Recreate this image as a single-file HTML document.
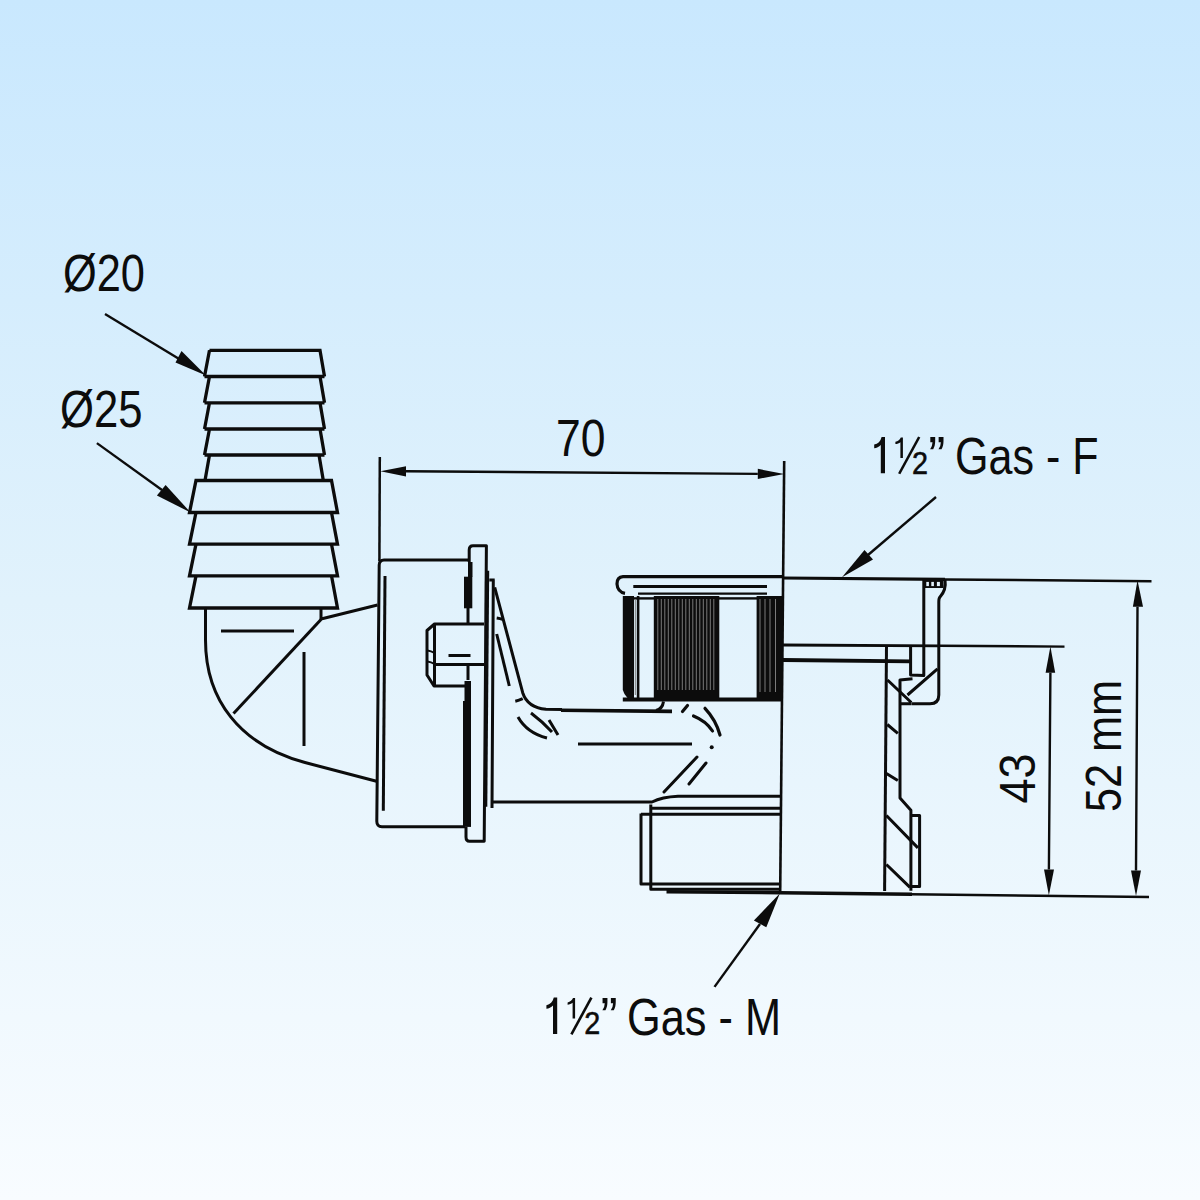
<!DOCTYPE html>
<html><head><meta charset="utf-8"><style>
html,body{margin:0;padding:0;width:1200px;height:1200px;overflow:hidden;}
svg{display:block;}
text{font-family:"Liberation Sans",sans-serif;fill:#0c0c0c;}
</style></head><body>
<svg width="1200" height="1200" viewBox="0 0 1200 1200">
<defs>
<linearGradient id="bg" x1="0" y1="0" x2="0" y2="1">
<stop offset="0" stop-color="#c9e8fe"/>
<stop offset="0.5" stop-color="#e1f2fc"/>
<stop offset="1" stop-color="#f8fcff"/>
</linearGradient>
</defs>
<rect x="0" y="0" width="1200" height="1200" fill="url(#bg)"/>

<!-- TEXT -->
<text x="63" y="290.6" font-size="51.5" textLength="82" lengthAdjust="spacingAndGlyphs">Ø20</text>
<text x="60" y="427.3" font-size="51.5" textLength="82.5" lengthAdjust="spacingAndGlyphs">Ø25</text>
<text x="556" y="455.5" font-size="51" textLength="49.5" lengthAdjust="spacingAndGlyphs">70</text>
<g id="half">
<path d="M885,437 L885,473.3 L880.8,473.3 L880.8,445 C879,447 876.5,448 874.2,448.2 L874.2,444.6 C878,444 880.5,441.5 881.6,437 Z" fill="#0c0c0c"/>
<path d="M902.9,437.5 L902.9,458 L900.4,458 L900.4,442.2 C899,443.3 897.3,443.9 895.4,444.1 L895.4,441.8 C898,441.4 900,439.8 900.8,437.5 Z" fill="#0c0c0c"/>
<path d="M899.2,473.75 L919.2,437" stroke="#0c0c0c" stroke-width="2.6" fill="none"/>
<text x="912" y="473.8" font-size="31" stroke="#0c0c0c" stroke-width="0.55" textLength="16" lengthAdjust="spacingAndGlyphs">2</text>
<text x="928.3" y="474.2" font-size="51.5" transform="translate(0,-19) scale(1,1.04)">”</text>
</g>
<text x="955" y="474.2" font-size="51.5" textLength="143.5" lengthAdjust="spacingAndGlyphs">Gas - F</text>
<use href="#half" transform="translate(-327.8,560.6)"/>
<text x="627" y="1035.3" font-size="51.5" textLength="154" lengthAdjust="spacingAndGlyphs">Gas - M</text>

<text transform="translate(1035.2,803.5) rotate(-90)" x="0" y="0" font-size="50" textLength="50" lengthAdjust="spacingAndGlyphs">43</text>
<text transform="translate(1121.3,812) rotate(-90)" x="0" y="0" font-size="50" textLength="132" lengthAdjust="spacingAndGlyphs">52 mm</text>

<g fill="none" stroke="#0c0c0c" stroke-width="3.3" stroke-linejoin="miter" stroke-linecap="butt">
<!-- HOSE BARB upper -->
<path d="M209.5,350.3 L320,350.3 L324.5,376.5 M204.5,376.5 L209.5,350.3"/>
<path d="M204.5,376.5 L324.5,376.5 M209.5,376.5 L204.5,402.8 M320,376.5 L324.5,402.8"/>
<path d="M204.5,402.8 L324.5,402.8 M209.5,402.8 L204.5,429 M320,402.8 L324.5,429"/>
<path d="M204.5,429 L324.5,429 M209.5,429 L204.5,455 M320,429 L324.5,455"/>
<path d="M204.5,455 L324.5,455 M209.5,455 L205,480.5 M319,455 L323.3,480.5"/>
<!-- lower -->
<path d="M196,480.5 L331.5,480.5 L337.5,512.5 L189.5,512.5 Z"/>
<path d="M196,512.5 L189.5,544.2 L337.5,544.2 L331.5,512.5"/>
<path d="M196,544.2 L189.5,575.8 L337.5,575.8 L331.5,544.2"/>
<path d="M196,575.8 L189.5,608 L337.5,608 L331.5,575.8"/>
</g>

<g fill="none" stroke="#0c0c0c" stroke-width="3" stroke-linejoin="round" stroke-linecap="butt">
<!-- ELBOW -->
<path d="M205.5,608 L205.5,640 C205.5,700 240,745 305,762.5 L376.5,781.3"/>
<path d="M321,608 L321,619 L377.5,605"/>
<path d="M321,619.5 L233.5,713.5"/>
<path d="M221,631 L294,631 M304,652 L304,746"/>

<!-- HOUSING BOX -->
<path d="M379.8,457 L379.4,561" stroke-width="2.5"/>
<path d="M468.3,560 L384,560 Q379.3,560 379.2,565 L376.8,821 Q376.7,826.7 382,826.7 L465,826.7"/>
<path d="M385,576 L383.3,810.7"/>

<!-- FLANGE -->
<path d="M473,545.8 L486.4,545.8 L484.2,841.3 L469.5,841.3 Q466,841.3 466,837 L466,827" stroke-width="3"/>
<path d="M473,545.8 Q469.2,545.8 469.2,550 L469.2,562"/>
<path d="M493.3,580 L492,808 M489.3,580 L494.7,580"/>

<!-- PIN -->
<path d="M484,624 L434.5,624 L427,630.5 L427,675 L434,686 L467.5,686 M434.5,624 L434.5,686 M434.5,664.5 L484,664.5 M468,664.5 L468,680 M468,608 L468,624"/>
<path d="M448.5,655.5 L470.5,655.5" stroke-width="3"/>
<path d="M427.5,650.5 Q431,651 434.5,653 M427.5,661.5 Q431,662 434.5,664" stroke-width="2"/>

<!-- DIAGONAL to pipe -->
<path d="M494.7,587.3 L522.7,692.7 Q527.5,707.5 546,709.3 L562,709.6"/>
<path d="M561,710.2 L672,711.4" stroke-width="3.6"/>
<path d="M656,710.5 Q662.5,709 663.5,701.5"/>
<path d="M496.7,634 L509.3,686"/>
<path d="M496.7,618 Q500,618.5 503.3,619.5 M515.3,701.3 Q519,700.5 522.7,698.7"/>
<!-- pipe bottom -->
<path d="M492,802 L652,802 Q662,797 678,796.3 L780.5,796.3"/>
<path d="M578,744 L692,744"/>
<!-- dashed arcs -->
<path d="M518,717 Q527,733 547,738 M531,713 Q543,722 552,732 M549,720 L558,735"/>
<path d="M682.5,711.5 L687.5,705.5 M693.5,716 Q706,721 712.5,731 M705,708.3 Q716,720 720,735" stroke-linecap="round" stroke-width="3.2"/>
<circle cx="711.7" cy="747.3" r="2" fill="#0c0c0c" stroke="none"/>
<path d="M664,792 L697,757 M689,784 L706,763" stroke-linecap="round"/>

<!-- MALE THREAD -->
<path d="M651.5,808.3 L780.5,808.3 M641,814.3 L780.5,814.3 M641,813.5 L641,884 L780.5,884 M650.8,804.5 L650.8,889.3 L780.5,889.3"/>
<path d="M666.5,891.8 L780,892.8 L912,894.2" stroke-width="3.4"/><path d="M910,894.2 L1149,896.9" stroke-width="2.5"/>

<!-- NUT lip -->
<path d="M783,576.7 L623,576.7 Q617,577 617,584 Q617.5,592 625,593.3" stroke-width="3.2"/>
<path d="M633.3,586.5 L767,586.5"/><path d="M638,593.6 L767,593.6" stroke-width="2.2"/>

<!-- right body -->
<path d="M783,578 L945,579.4" stroke-width="3.2"/><path d="M944,579.4 L1151.5,581.3" stroke-width="2.5"/>
<path d="M784.2,461 L780.2,891" stroke-width="2.6"/>
<path d="M783,645 L940,645.8" stroke-width="2.8"/><path d="M939,645.8 L1064.5,646.6" stroke-width="2.4"/>
<path d="M783,660 L910.6,661.3" stroke-width="3.8"/>
<path d="M923.8,580 L923.8,675.6 L910.6,675 L910.6,645"/>
<path d="M945,579.4 Q946.5,590 940,597 Q938.8,598 938.8,602 L938.8,695 Q938.8,703.8 930,703.8 L911.3,703.8"/>
<path d="M912.5,678.8 L900,680 L900,798 L910.9,810.3 L910.9,890.8"/>
<path d="M887.5,680 L911.3,702.5 M907.5,695 L937.5,668.8 M900,703.8 L911,703.8"/>
<path d="M886.5,645 L884.6,891"/>
<path d="M910.9,815.5 L919.6,815.5 L919.6,886.4 L910.9,886.4"/>
<path d="M887.3,724.5 L897.8,733.3 M886.4,773.5 L897.8,780.5 M886.4,815.5 L917.9,847.9 M886.4,864.5 L910,887.3"/>


<!-- dimension 70 -->
<path d="M406,471.3 L757.8,473.9" stroke-width="2.4"/>
<!-- 52 / 43 -->
<path d="M1137.5,606.7 L1136,870.5 M1050.4,672.8 L1048.9,869.6" stroke-width="2.4"/>
<!-- leader lines -->
<path d="M105,314 L180,359.5" stroke-width="2.4"/>
<path d="M96.9,443.1 L162,490" stroke-width="2.4"/>
<path d="M936,497 L868,555" stroke-width="2.4"/>
<path d="M714.5,986.9 L760,924" stroke-width="2.4"/>
</g>

<!-- filled dark shapes -->
<g fill="#0c0c0c" stroke="none">
<!-- flange bars -->
<rect x="464" y="576.7" width="8.3" height="31.6"/>
<rect x="468" y="562" width="4.5" height="15"/>
<rect x="464.5" y="681" width="6.5" height="145.7"/>
<rect x="463" y="701" width="8" height="125.7"/>
<polygon points="485,570.8 489.2,570.8 487.3,806.7 484.3,806.7"/>
<!-- nut body -->
<path d="M622.8,596 L634,596 L634,700.5 Q626,700 622.8,690 Z"/>
<rect x="634" y="597.2" width="148.8" height="2.4"/>
<rect x="622.8" y="697.5" width="160" height="4"/>
<rect x="636.8" y="596" width="2.6" height="104"/>
<rect x="653.8" y="596" width="65.5" height="104"/>
<rect x="756.6" y="596" width="25.9" height="104"/>
<!-- arrowheads -->
<polygon points="380.4,471.2 406,466.2 406,476.4"/>
<polygon points="784.2,474 757.8,468.8 757.8,479"/>
<polygon points="206,375.6 175.5,362.5 181.5,351"/>
<polygon points="190.6,512.5 156.9,495.6 165.6,485"/>
<polygon points="842,577.3 864.5,550 873,559.5"/>
<polygon points="779.8,893.5 753.9,920.5 766.3,927.3"/>
<polygon points="1137.5,580.3 1132.9,606.7 1143,606.7"/>
<polygon points="1050.4,646.6 1045.6,672.8 1055.2,672.8"/>
<polygon points="1048.9,895.3 1044,869.6 1054,869.6"/>
<polygon points="1136,896 1131,870.5 1141,870.5"/>
</g>
<!-- thread stripes -->
<g stroke="#7a7a7a" stroke-width="1" fill="none">
<path d="M657.8,599 L657.8,690 M661.3,599 L661.3,690 M664.8,599 L664.8,690 M668.3,599 L668.3,690 M671.8,599 L671.8,690 M675.3,599 L675.3,690 M678.8,599 L678.8,690 M682.3,599 L682.3,690 M685.8,599 L685.8,690 M689.3,599 L689.3,690 M692.8,599 L692.8,690 M696.3,599 L696.3,690 M699.8,599 L699.8,690 M703.3,599 L703.3,690 M706.8,599 L706.8,690 M710.3,599 L710.3,690 M713.8,599 L713.8,690 M760,599 L760,692 M765,599 L765,692 M770,599 L770,692 M775.5,599 L775.5,692 M635.3,599 L635.3,695"/>
</g>
<!-- cap top squares -->
<rect x="924.5" y="580" width="19" height="8" fill="#0c0c0c"/>
<g fill="#e2f1fc"><rect x="926.3" y="581.9" width="2.6" height="4.2"/><rect x="931.3" y="581.9" width="2.6" height="4.2"/><rect x="936.9" y="581.9" width="3" height="4.2"/></g>
</svg>
</body></html>
